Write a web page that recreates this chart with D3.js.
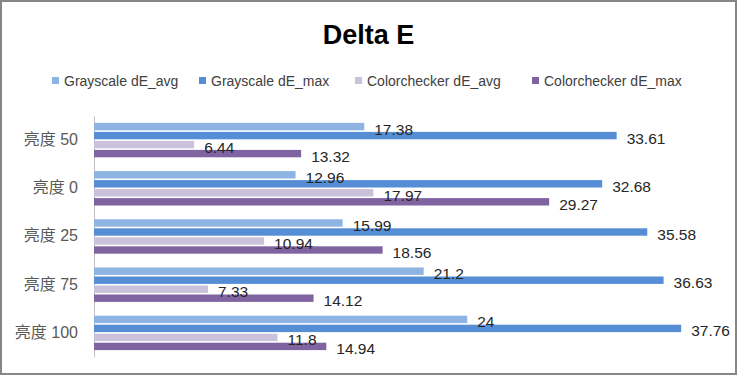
<!DOCTYPE html>
<html>
<head>
<meta charset="utf-8">
<script src="https://cdn.jsdelivr.net/npm/d3@7"></script>
<style>
  body { margin: 0; background: #fff; }
  svg { display: block; font-family: "Liberation Sans", "Noto Sans CJK SC", sans-serif; }
</style>
</head>
<body>
<div id="container"></div>
<script>
// chart data
const categories = ["亮度 50", "亮度 0", "亮度 25", "亮度 75", "亮度 100"];
const seriesNames = ["Grayscale dE_avg", "Grayscale dE_max", "Colorchecker dE_avg", "Colorchecker dE_max"];
const grayAvg = [17.38, 12.96, 15.99, 21.2, 24];
const grayMax = [33.61, 32.68, 35.58, 36.63, 37.76];
const ccAvg = [6.44, 17.97, 10.94, 7.33, 11.8];
const ccMax = [13.32, 29.27, 18.56, 14.12, 14.94];
const colors = ["#8db4e2", "#558ed5", "#ccc1da", "#8064a2"];

const W = 738, H = 376;
const series = [grayAvg, grayMax, ccAvg, ccMax];

const svg = d3.select("#container")
    .append("svg")
    .attr("width", W)
    .attr("height", H);

// outer frame
svg.append("rect")
    .attr("x", 1).attr("y", 1)
    .attr("width", W - 3).attr("height", H - 3)
    .attr("fill", "#fff")
    .attr("stroke", "#868686")
    .attr("stroke-width", 2);

// title
svg.append("text")
    .attr("x", 368.5)
    .attr("y", 44)
    .attr("text-anchor", "middle")
    .style("font-size", "27px")
    .style("font-weight", "bold")
    .attr("fill", "#000")
    .text("Delta E");

// legend
const legendX = [52, 199, 355, 532];
const legend = svg.append("g");
seriesNames.forEach((name, i) => {
    legend.append("rect")
        .attr("x", legendX[i]).attr("y", 77)
        .attr("width", 7).attr("height", 7)
        .attr("fill", colors[i]);
    legend.append("text")
        .attr("x", legendX[i] + 12)
        .attr("y", 86)
        .style("font-size", "14px")
        .attr("fill", "#404040")
        .text(name);
});

// scales
const x = d3.scaleLinear()
    .domain([0, 40])
    .range([94, 716]);

const y = d3.scaleBand()
    .domain(categories)
    .range([116, 357]);

const ySub = d3.scaleBand()
    .domain(d3.range(series.length))
    .range([-18, 18]);

// category axis
const yAxis = svg.append("g")
    .attr("transform", `translate(${x(0)},0)`)
    .call(d3.axisLeft(y).tickSize(0).tickPadding(16));
yAxis.select(".domain").attr("stroke", "#bfbfbf");
yAxis.selectAll("text")
    .style("font-size", "16px")
    .style("font-family", "'Liberation Sans', 'Noto Sans CJK SC', sans-serif")
    .attr("fill", "#595959")
    .attr("dy", "0.3em");

// bars
const groups = svg.selectAll(".grp")
    .data(categories)
    .enter()
    .append("g")
    .classed("grp", true)
    .attr("transform", d => `translate(0,${y(d) + y.bandwidth() / 2})`);

const barH = 7.4;
groups.each(function (cat, ci) {
    const g = d3.select(this);
    series.forEach((vals, si) => {
        const cy = ySub(si) + ySub.bandwidth() / 2;
        g.append("rect")
            .attr("x", x(0))
            .attr("y", cy - barH / 2)
            .attr("width", x(vals[ci]) - x(0))
            .attr("height", barH)
            .attr("fill", colors[si]);
    });
});

// data labels (drawn after bars)
groups.each(function (cat, ci) {
    const g = d3.select(this);
    series.forEach((vals, si) => {
        const cy = ySub(si) + ySub.bandwidth() / 2;
        g.append("text")
            .attr("x", x(vals[ci]) + 10)
            .attr("y", cy + 8)
            .style("font-size", "15.5px")
            .attr("fill", "#262626")
            .text(vals[ci]);
    });
});
</script>
</body>
</html>
